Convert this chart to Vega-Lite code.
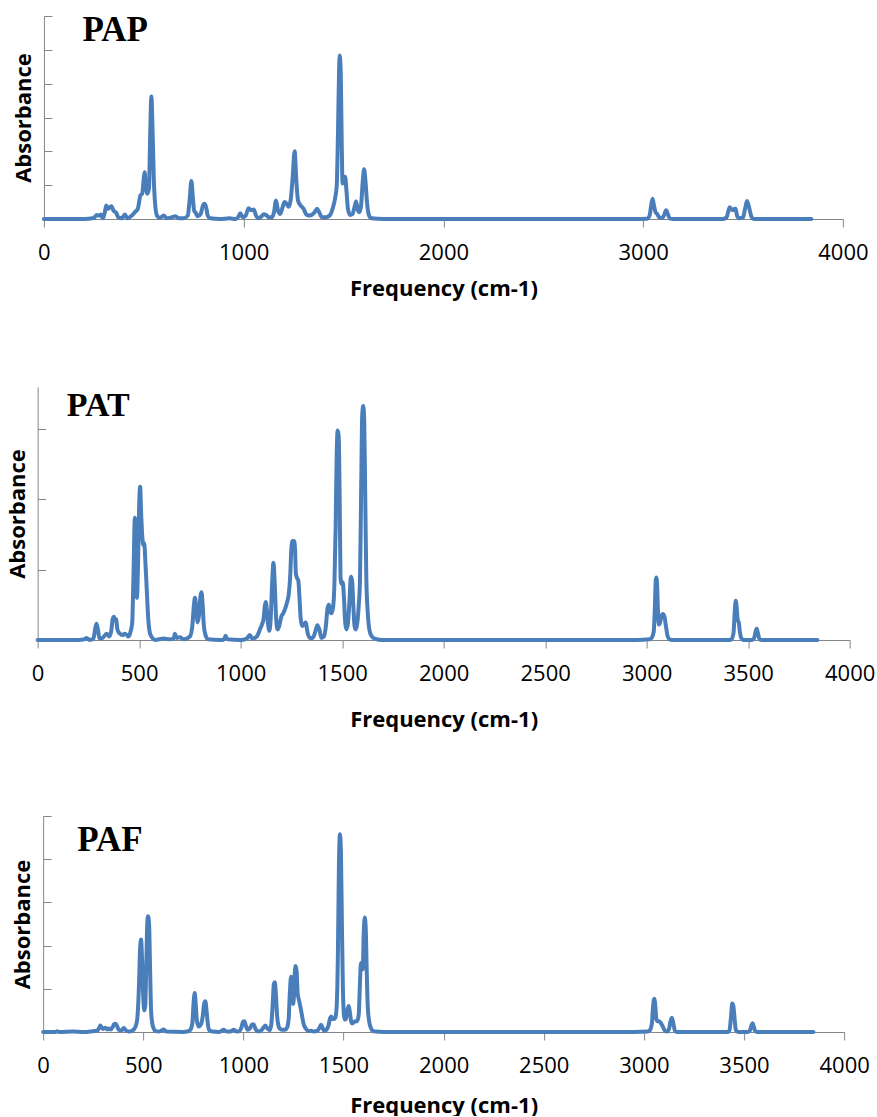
{
  "$schema": "https://vega.github.io/schema/vega-lite/v6.json",
  "padding": {"left": 6, "top": 15, "right": 0, "bottom": 0},
  "background": "white",
  "center": true,
  "spacing": 88,
  "config": {
    "view": {"stroke": null},
    "axis": {"domainColor": "#868686", "tickColor": "#868686", "labelFont": "Open Sans", "labelFontSize": 22, "labelColor": "#000000", "titleFont": "Open Sans", "titleFontSize": 22, "titleFontWeight": "bold", "titleColor": "#000000", "grid": false, "format": "d"},
    "axisX": {"tickSize": 8, "labelPadding": 15, "labelFlush": false},
    "axisY": {"tickSize": -8, "labels": false, "titlePadding": 8}
  },
  "datasets": {
    "pap": [
      {"f":0,"a":0},{"f":200,"a":0},{"f":250,"a":0.03},{"f":265,"a":0.12},{"f":275,"a":0.1},{"f":285,"a":0.13},{"f":295,"a":0.02},{"f":305,"a":0.2},{"f":312,"a":0.4},{"f":320,"a":0.3},{"f":330,"a":0.35},{"f":338,"a":0.38},{"f":348,"a":0.25},{"f":362,"a":0.18},{"f":372,"a":0.05},{"f":390,"a":0.02},{"f":405,"a":0.13},{"f":418,"a":0.02},{"f":440,"a":0.1},{"f":458,"a":0.22},{"f":470,"a":0.3},{"f":483,"a":0.7},{"f":492,"a":0.75},{"f":500,"a":1.2},{"f":504,"a":1.38},{"f":510,"a":1.0},{"f":518,"a":0.75},{"f":526,"a":0.9},{"f":532,"a":2.5},{"f":538,"a":3.62},{"f":544,"a":2.6},{"f":550,"a":1.2},{"f":556,"a":0.5},{"f":566,"a":0.1},{"f":580,"a":0.03},{"f":600,"a":0.1},{"f":615,"a":0.02},{"f":640,"a":0.05},{"f":658,"a":0.08},{"f":675,"a":0.02},{"f":700,"a":0.02},{"f":720,"a":0.1},{"f":730,"a":0.6},{"f":738,"a":1.12},{"f":746,"a":0.6},{"f":752,"a":0.25},{"f":760,"a":0.18},{"f":770,"a":0.08},{"f":785,"a":0.15},{"f":795,"a":0.38},{"f":803,"a":0.45},{"f":812,"a":0.35},{"f":820,"a":0.1},{"f":833,"a":0.02},{"f":880,"a":0},{"f":930,"a":0.02},{"f":960,"a":0},{"f":975,"a":0.08},{"f":983,"a":0.17},{"f":995,"a":0.05},{"f":1010,"a":0.1},{"f":1025,"a":0.32},{"f":1038,"a":0.26},{"f":1050,"a":0.28},{"f":1062,"a":0.1},{"f":1075,"a":0.02},{"f":1090,"a":0.08},{"f":1100,"a":0.14},{"f":1112,"a":0.12},{"f":1125,"a":0.05},{"f":1140,"a":0.05},{"f":1152,"a":0.2},{"f":1162,"a":0.55},{"f":1172,"a":0.25},{"f":1183,"a":0.15},{"f":1195,"a":0.35},{"f":1205,"a":0.5},{"f":1215,"a":0.45},{"f":1225,"a":0.36},{"f":1235,"a":0.55},{"f":1245,"a":1.2},{"f":1255,"a":2.0},{"f":1264,"a":1.1},{"f":1272,"a":0.55},{"f":1285,"a":0.4},{"f":1300,"a":0.3},{"f":1312,"a":0.15},{"f":1325,"a":0.1},{"f":1340,"a":0.12},{"f":1355,"a":0.2},{"f":1367,"a":0.3},{"f":1378,"a":0.2},{"f":1392,"a":0.05},{"f":1410,"a":0.05},{"f":1430,"a":0.1},{"f":1445,"a":0.3},{"f":1458,"a":0.62},{"f":1466,"a":1.0},{"f":1472,"a":2.5},{"f":1478,"a":4.5},{"f":1481,"a":4.83},{"f":1486,"a":4.3},{"f":1491,"a":2.2},{"f":1495,"a":1.05},{"f":1501,"a":1.15},{"f":1508,"a":1.25},{"f":1515,"a":0.8},{"f":1522,"a":0.3},{"f":1533,"a":0.12},{"f":1545,"a":0.15},{"f":1555,"a":0.35},{"f":1563,"a":0.52},{"f":1570,"a":0.3},{"f":1578,"a":0.2},{"f":1587,"a":0.35},{"f":1596,"a":1.1},{"f":1603,"a":1.47},{"f":1610,"a":1.1},{"f":1618,"a":0.45},{"f":1628,"a":0.1},{"f":1640,"a":0.02},{"f":1700,"a":0},{"f":2950,"a":0},{"f":3020,"a":0.01},{"f":3032,"a":0.1},{"f":3040,"a":0.4},{"f":3047,"a":0.6},{"f":3054,"a":0.4},{"f":3062,"a":0.2},{"f":3070,"a":0.15},{"f":3080,"a":0.05},{"f":3095,"a":0.03},{"f":3105,"a":0.12},{"f":3115,"a":0.26},{"f":3125,"a":0.12},{"f":3135,"a":0.01},{"f":3150,"a":0},{"f":3400,"a":0},{"f":3418,"a":0.05},{"f":3425,"a":0.2},{"f":3433,"a":0.35},{"f":3442,"a":0.28},{"f":3450,"a":0.26},{"f":3458,"a":0.3},{"f":3463,"a":0.3},{"f":3470,"a":0.1},{"f":3480,"a":0.02},{"f":3500,"a":0.05},{"f":3510,"a":0.3},{"f":3520,"a":0.53},{"f":3530,"a":0.35},{"f":3540,"a":0.1},{"f":3550,"a":0.01},{"f":3570,"a":0},{"f":3842,"a":0}
    ],
    "pat": [
      {"f":0,"a":0},{"f":200,"a":0},{"f":230,"a":0.01},{"f":241,"a":0.03},{"f":255,"a":0},{"f":275,"a":0.02},{"f":283,"a":0.15},{"f":290,"a":0.23},{"f":297,"a":0.15},{"f":305,"a":0.02},{"f":320,"a":0.03},{"f":340,"a":0.09},{"f":352,"a":0.05},{"f":362,"a":0.12},{"f":370,"a":0.3},{"f":376,"a":0.33},{"f":381,"a":0.28},{"f":386,"a":0.3},{"f":393,"a":0.15},{"f":405,"a":0.09},{"f":418,"a":0.07},{"f":430,"a":0.09},{"f":440,"a":0.07},{"f":447,"a":0.05},{"f":458,"a":0.12},{"f":466,"a":0.25},{"f":472,"a":0.9},{"f":479,"a":1.74},{"f":484,"a":1.2},{"f":489,"a":0.6},{"f":494,"a":1.0},{"f":500,"a":1.9},{"f":505,"a":2.18},{"f":510,"a":1.8},{"f":515,"a":1.5},{"f":520,"a":1.35},{"f":525,"a":1.38},{"f":531,"a":1.1},{"f":537,"a":0.75},{"f":545,"a":0.3},{"f":553,"a":0.1},{"f":565,"a":0.03},{"f":578,"a":0},{"f":620,"a":0.02},{"f":650,"a":0.01},{"f":670,"a":0.02},{"f":676,"a":0.09},{"f":685,"a":0.03},{"f":700,"a":0.04},{"f":720,"a":0.01},{"f":750,"a":0.05},{"f":762,"a":0.2},{"f":770,"a":0.5},{"f":775,"a":0.6},{"f":780,"a":0.5},{"f":788,"a":0.25},{"f":795,"a":0.35},{"f":802,"a":0.62},{"f":807,"a":0.68},{"f":813,"a":0.5},{"f":819,"a":0.2},{"f":826,"a":0.08},{"f":840,"a":0.01},{"f":900,"a":0},{"f":918,"a":0.01},{"f":926,"a":0.06},{"f":935,"a":0.01},{"f":1000,"a":0},{"f":1030,"a":0.02},{"f":1045,"a":0.07},{"f":1058,"a":0.02},{"f":1080,"a":0.05},{"f":1095,"a":0.15},{"f":1105,"a":0.22},{"f":1113,"a":0.3},{"f":1119,"a":0.48},{"f":1124,"a":0.54},{"f":1130,"a":0.4},{"f":1136,"a":0.2},{"f":1141,"a":0.13},{"f":1148,"a":0.3},{"f":1155,"a":0.8},{"f":1162,"a":1.1},{"f":1168,"a":0.8},{"f":1175,"a":0.3},{"f":1182,"a":0.15},{"f":1190,"a":0.2},{"f":1201,"a":0.34},{"f":1210,"a":0.38},{"f":1221,"a":0.46},{"f":1230,"a":0.55},{"f":1237,"a":0.65},{"f":1244,"a":0.9},{"f":1250,"a":1.3},{"f":1256,"a":1.41},{"f":1263,"a":1.41},{"f":1268,"a":1.3},{"f":1272,"a":0.95},{"f":1278,"a":0.88},{"f":1284,"a":0.85},{"f":1290,"a":0.6},{"f":1296,"a":0.3},{"f":1303,"a":0.2},{"f":1312,"a":0.22},{"f":1320,"a":0.25},{"f":1330,"a":0.1},{"f":1341,"a":0.03},{"f":1355,"a":0.03},{"f":1368,"a":0.12},{"f":1378,"a":0.21},{"f":1388,"a":0.15},{"f":1398,"a":0.03},{"f":1410,"a":0.05},{"f":1420,"a":0.2},{"f":1428,"a":0.45},{"f":1435,"a":0.5},{"f":1442,"a":0.4},{"f":1448,"a":0.38},{"f":1456,"a":0.48},{"f":1462,"a":0.8},{"f":1468,"a":1.6},{"f":1473,"a":2.6},{"f":1478,"a":2.98},{"f":1483,"a":2.9},{"f":1488,"a":2.0},{"f":1492,"a":0.9},{"f":1497,"a":0.8},{"f":1503,"a":0.82},{"f":1509,"a":0.6},{"f":1515,"a":0.25},{"f":1521,"a":0.15},{"f":1529,"a":0.25},{"f":1537,"a":0.6},{"f":1543,"a":0.9},{"f":1549,"a":0.85},{"f":1555,"a":0.5},{"f":1561,"a":0.2},{"f":1567,"a":0.15},{"f":1575,"a":0.25},{"f":1582,"a":0.5},{"f":1588,"a":0.85},{"f":1594,"a":2.2},{"f":1599,"a":3.2},{"f":1604,"a":3.33},{"f":1609,"a":3.1},{"f":1614,"a":2.0},{"f":1619,"a":0.9},{"f":1626,"a":0.4},{"f":1634,"a":0.15},{"f":1644,"a":0.06},{"f":1660,"a":0.02},{"f":1700,"a":0},{"f":2950,"a":0},{"f":3015,"a":0.01},{"f":3025,"a":0.03},{"f":3035,"a":0.12},{"f":3041,"a":0.5},{"f":3045,"a":0.85},{"f":3048,"a":0.89},{"f":3052,"a":0.75},{"f":3056,"a":0.4},{"f":3060,"a":0.22},{"f":3066,"a":0.25},{"f":3072,"a":0.33},{"f":3080,"a":0.37},{"f":3088,"a":0.33},{"f":3095,"a":0.2},{"f":3103,"a":0.06},{"f":3112,"a":0.01},{"f":3125,"a":0},{"f":3400,"a":0},{"f":3418,"a":0.01},{"f":3428,"a":0.1},{"f":3434,"a":0.4},{"f":3439,"a":0.56},{"f":3444,"a":0.45},{"f":3449,"a":0.28},{"f":3454,"a":0.25},{"f":3459,"a":0.12},{"f":3466,"a":0.03},{"f":3475,"a":0},{"f":3520,"a":0},{"f":3530,"a":0.03},{"f":3537,"a":0.12},{"f":3542,"a":0.16},{"f":3548,"a":0.1},{"f":3555,"a":0.02},{"f":3565,"a":0},{"f":3841,"a":0}
    ],
    "paf": [
      {"f":0,"a":0},{"f":60,"a":0},{"f":70,"a":0.02},{"f":80,"a":0},{"f":150,"a":0.01},{"f":200,"a":0},{"f":250,"a":0.02},{"f":270,"a":0.03},{"f":280,"a":0.1},{"f":286,"a":0.15},{"f":292,"a":0.1},{"f":300,"a":0.07},{"f":311,"a":0.1},{"f":320,"a":0.06},{"f":328,"a":0.08},{"f":338,"a":0.06},{"f":348,"a":0.12},{"f":355,"a":0.18},{"f":361,"a":0.19},{"f":368,"a":0.15},{"f":378,"a":0.05},{"f":392,"a":0.04},{"f":403,"a":0.09},{"f":413,"a":0.04},{"f":428,"a":0.01},{"f":445,"a":0.03},{"f":461,"a":0.12},{"f":470,"a":0.3},{"f":478,"a":1.0},{"f":484,"a":1.9},{"f":489,"a":2.14},{"f":494,"a":1.7},{"f":500,"a":0.8},{"f":505,"a":0.5},{"f":510,"a":0.6},{"f":515,"a":1.5},{"f":520,"a":2.5},{"f":524,"a":2.68},{"f":529,"a":2.5},{"f":534,"a":1.5},{"f":539,"a":0.5},{"f":545,"a":0.2},{"f":552,"a":0.08},{"f":561,"a":0.02},{"f":580,"a":0.01},{"f":602,"a":0.06},{"f":615,"a":0.01},{"f":700,"a":0},{"f":720,"a":0.01},{"f":735,"a":0.05},{"f":745,"a":0.2},{"f":751,"a":0.65},{"f":757,"a":0.9},{"f":762,"a":0.65},{"f":768,"a":0.25},{"f":777,"a":0.13},{"f":790,"a":0.2},{"f":798,"a":0.4},{"f":804,"a":0.65},{"f":810,"a":0.71},{"f":816,"a":0.5},{"f":822,"a":0.2},{"f":830,"a":0.04},{"f":845,"a":0.01},{"f":880,"a":0},{"f":902,"a":0.05},{"f":915,"a":0.01},{"f":935,"a":0.01},{"f":952,"a":0.05},{"f":965,"a":0.01},{"f":980,"a":0.02},{"f":990,"a":0.1},{"f":998,"a":0.24},{"f":1005,"a":0.25},{"f":1012,"a":0.15},{"f":1022,"a":0.05},{"f":1032,"a":0.08},{"f":1042,"a":0.17},{"f":1050,"a":0.18},{"f":1058,"a":0.1},{"f":1068,"a":0.02},{"f":1085,"a":0.02},{"f":1100,"a":0.1},{"f":1110,"a":0.15},{"f":1120,"a":0.08},{"f":1132,"a":0.04},{"f":1140,"a":0.2},{"f":1147,"a":0.7},{"f":1152,"a":1.1},{"f":1157,"a":1.15},{"f":1162,"a":0.9},{"f":1168,"a":0.4},{"f":1175,"a":0.15},{"f":1183,"a":0.07},{"f":1195,"a":0.05},{"f":1208,"a":0.05},{"f":1218,"a":0.1},{"f":1226,"a":0.3},{"f":1232,"a":0.9},{"f":1238,"a":1.28},{"f":1243,"a":1.2},{"f":1248,"a":0.65},{"f":1252,"a":0.8},{"f":1256,"a":1.3},{"f":1261,"a":1.53},{"f":1266,"a":1.4},{"f":1271,"a":0.9},{"f":1277,"a":0.75},{"f":1284,"a":0.6},{"f":1292,"a":0.4},{"f":1300,"a":0.2},{"f":1313,"a":0.07},{"f":1325,"a":0.02},{"f":1339,"a":0.03},{"f":1350,"a":0.01},{"f":1370,"a":0.03},{"f":1380,"a":0.1},{"f":1388,"a":0.17},{"f":1395,"a":0.1},{"f":1405,"a":0.02},{"f":1415,"a":0.05},{"f":1425,"a":0.15},{"f":1432,"a":0.3},{"f":1439,"a":0.36},{"f":1446,"a":0.3},{"f":1452,"a":0.3},{"f":1459,"a":0.33},{"f":1466,"a":0.6},{"f":1472,"a":1.8},{"f":1477,"a":3.8},{"f":1482,"a":4.58},{"f":1487,"a":4.2},{"f":1492,"a":2.5},{"f":1497,"a":1.0},{"f":1502,"a":0.4},{"f":1506,"a":0.29},{"f":1512,"a":0.3},{"f":1519,"a":0.5},{"f":1526,"a":0.6},{"f":1532,"a":0.45},{"f":1538,"a":0.25},{"f":1543,"a":0.2},{"f":1550,"a":0.22},{"f":1560,"a":0.25},{"f":1568,"a":0.25},{"f":1576,"a":0.4},{"f":1582,"a":1.1},{"f":1587,"a":1.6},{"f":1592,"a":1.55},{"f":1596,"a":1.45},{"f":1601,"a":2.3},{"f":1606,"a":2.65},{"f":1611,"a":2.4},{"f":1616,"a":1.4},{"f":1621,"a":0.6},{"f":1628,"a":0.25},{"f":1636,"a":0.1},{"f":1645,"a":0.03},{"f":1660,"a":0.01},{"f":1700,"a":0},{"f":2950,"a":0},{"f":3020,"a":0.01},{"f":3030,"a":0.04},{"f":3040,"a":0.2},{"f":3046,"a":0.6},{"f":3052,"a":0.77},{"f":3058,"a":0.55},{"f":3062,"a":0.3},{"f":3068,"a":0.25},{"f":3076,"a":0.25},{"f":3086,"a":0.2},{"f":3095,"a":0.12},{"f":3105,"a":0.03},{"f":3115,"a":0.01},{"f":3125,"a":0.06},{"f":3133,"a":0.25},{"f":3140,"a":0.33},{"f":3147,"a":0.2},{"f":3155,"a":0.03},{"f":3165,"a":0},{"f":3420,"a":0},{"f":3428,"a":0.05},{"f":3435,"a":0.35},{"f":3441,"a":0.66},{"f":3447,"a":0.6},{"f":3453,"a":0.3},{"f":3460,"a":0.04},{"f":3470,"a":0},{"f":3520,"a":0},{"f":3530,"a":0.04},{"f":3537,"a":0.15},{"f":3543,"a":0.2},{"f":3549,"a":0.12},{"f":3556,"a":0.02},{"f":3565,"a":0},{"f":3847,"a":0}
    ]
  },
  "vconcat": [
    {
      "width": 799, "height": 203,
      "layer": [
        {
          "data": {"name": "pap"},
          "mark": {"type": "line", "color": "#4a7ebb", "strokeWidth": 4, "interpolate": "monotone", "strokeJoin": "round", "strokeCap": "round"},
          "encoding": {
            "x": {"field": "f", "type": "quantitative", "scale": {"domain": [0, 4000], "nice": false}, "axis": {"values": [0, 1000, 2000, 3000, 4000], "title": "Frequency (cm-1)", "titlePadding": 15}},
            "y": {"field": "a", "type": "quantitative", "scale": {"domain": [0, 6], "nice": false}, "axis": {"values": [0, 1, 2, 3, 4, 5, 6], "tickCount": 7, "title": "Absorbance"}}
          }
        },
        {
          "data": {"values": [{"f": 193, "a": 5.27, "t": "PAP"}]},
          "mark": {"type": "text", "font": "Liberation Serif", "fontWeight": "bold", "fontSize": 35, "align": "left", "baseline": "alphabetic", "color": "#000000", "clip": true},
          "encoding": {"x": {"field": "f", "type": "quantitative"}, "y": {"field": "a", "type": "quantitative"}, "text": {"field": "t"}}
        }
      ]
    },
    {
      "spacing": 85,
      "center": true,
      "vconcat": [
        {
          "width": 812, "height": 253,
          "layer": [
            {
              "data": {"name": "pat"},
              "mark": {"type": "line", "color": "#4a7ebb", "strokeWidth": 4, "interpolate": "monotone", "strokeJoin": "round", "strokeCap": "round"},
              "encoding": {
                "x": {"field": "f", "type": "quantitative", "scale": {"domain": [0, 4000], "nice": false}, "axis": {"values": [0, 500, 1000, 1500, 2000, 2500, 3000, 3500, 4000], "title": "Frequency (cm-1)", "titlePadding": 25}},
                "y": {"field": "a", "type": "quantitative", "scale": {"domain": [0, 3.6], "nice": false}, "axis": {"values": [0, 1, 2, 3], "title": "Absorbance"}}
              }
            },
            {
              "data": {"values": [{"f": 143, "a": 3.19, "t": "PAT"}]},
              "mark": {"type": "text", "font": "Liberation Serif", "fontWeight": "bold", "fontSize": 34, "align": "left", "baseline": "alphabetic", "color": "#000000"},
              "encoding": {"x": {"field": "f", "type": "quantitative"}, "y": {"field": "a", "type": "quantitative"}, "text": {"field": "t"}}
            }
          ]
        },
        {
          "width": 801, "height": 216,
          "layer": [
            {
              "data": {"name": "paf"},
              "mark": {"type": "line", "color": "#4a7ebb", "strokeWidth": 4, "interpolate": "monotone", "strokeJoin": "round", "strokeCap": "round"},
              "encoding": {
                "x": {"field": "f", "type": "quantitative", "scale": {"domain": [0, 4000], "nice": false}, "axis": {"values": [0, 500, 1000, 1500, 2000, 2500, 3000, 3500, 4000], "title": "Frequency (cm-1)", "titlePadding": 19}},
                "y": {"field": "a", "type": "quantitative", "scale": {"domain": [0, 5], "nice": false}, "axis": {"values": [0, 1, 2, 3, 4, 5], "title": "Absorbance"}}
              }
            },
            {
              "data": {"values": [{"f": 170, "a": 4.19, "t": "PAF"}]},
              "mark": {"type": "text", "font": "Liberation Serif", "fontWeight": "bold", "fontSize": 35, "align": "left", "baseline": "alphabetic", "color": "#000000"},
              "encoding": {"x": {"field": "f", "type": "quantitative"}, "y": {"field": "a", "type": "quantitative"}, "text": {"field": "t"}}
            }
          ]
        }
      ]
    }
  ]
}
